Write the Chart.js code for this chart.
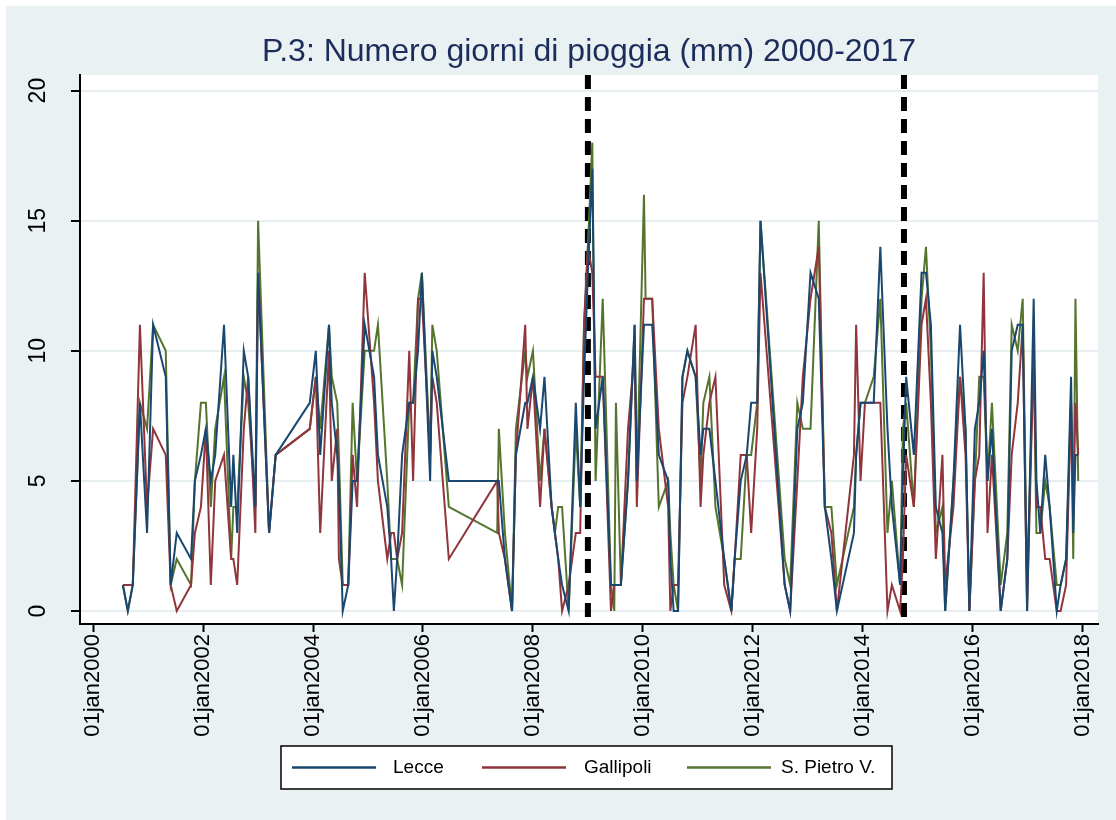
<!DOCTYPE html>
<html>
<head>
<meta charset="utf-8">
<script src="https://cdn.jsdelivr.net/npm/chart.js@4.4.1/dist/chart.umd.min.js"></script>
<style>
  html, body { margin: 0; padding: 0; background: #ffffff; }
  #wrap { width: 1116px; height: 820px; }
</style>
</head>
<body>
<div id="wrap"><canvas id="chart" width="1116" height="820"></canvas></div>
<script>
// dates as decimal years
const dates = [2000.54, 2000.63, 2000.72, 2000.85, 2000.98, 2001.09, 2001.32, 2001.41, 2001.52, 2001.78,
  2001.85, 2001.96, 2002.05, 2002.14, 2002.22, 2002.38, 2002.51, 2002.55, 2002.62, 2002.74,
  2002.82, 2002.95, 2003.00, 2003.20, 2003.32, 2003.94, 2004.05, 2004.13, 2004.29, 2004.34,
  2004.44, 2004.47, 2004.54, 2004.64, 2004.72, 2004.80, 2004.94, 2005.11, 2005.18, 2005.35,
  2005.42, 2005.47, 2005.53, 2005.62, 2005.75, 2005.82, 2005.91, 2005.98, 2006.13, 2006.17,
  2006.25, 2006.47, 2007.35, 2007.38, 2007.49, 2007.62, 2007.69, 2007.86, 2007.90, 2008.00,
  2008.13, 2008.21, 2008.34, 2008.40, 2008.46, 2008.53, 2008.65, 2008.78, 2008.86, 2008.93,
  2009.00, 2009.08, 2009.14, 2009.27, 2009.42, 2009.48, 2009.51, 2009.60, 2009.73, 2009.85,
  2009.89, 2010.02, 2010.05, 2010.17, 2010.29, 2010.46, 2010.50, 2010.56, 2010.64, 2010.72,
  2010.81, 2010.96, 2011.05, 2011.10, 2011.21, 2011.32, 2011.48, 2011.61, 2011.67, 2011.78,
  2011.89, 2011.97, 2012.08, 2012.14, 2012.58, 2012.68, 2012.81, 2012.91, 2013.05, 2013.20,
  2013.31, 2013.43, 2013.53, 2013.84, 2013.88, 2013.96, 2014.04, 2014.20, 2014.32, 2014.45,
  2014.53, 2014.68, 2014.73, 2014.79, 2014.93, 2015.07, 2015.15, 2015.24, 2015.33, 2015.45,
  2015.50, 2015.65, 2015.77, 2015.87, 2015.94, 2016.04, 2016.12, 2016.20, 2016.27, 2016.35,
  2016.51, 2016.63, 2016.71, 2016.82, 2016.91, 2016.99, 2017.11, 2017.16, 2017.23, 2017.32,
  2017.40, 2017.53, 2017.60, 2017.70, 2017.79, 2017.83, 2017.87, 2017.92]

const lecce = [1, 0, 1, 8, 3, 11, 9, 1, 3, 2,
  5, 6, 7, 5, 6, 11, 4, 6, 3, 10,
  9, 4, 13, 3, 6, 8, 10, 6, 11, 8,
  6, 5, 0, 1, 5, 5, 11, 9, 6, 4,
  2, 0, 2, 6, 8, 8, 10, 13, 5, 10,
  9, 5, 5, 5, 2, 0, 6, 8, 8, 9,
  7, 9, 4, 3, 2, 1, 0, 8, 4, 9,
  13, 17, 7, 9, 1, 1, 1, 1, 5, 11,
  5, 11, 11, 11, 6, 5, 2, 0, 0, 9,
  10, 9, 6, 7, 7, 5, 2, 0, 2, 5,
  6, 8, 8, 15, 1, 0, 7, 8, 13, 12,
  4, 2, 0, 3, 6, 8, 8, 8, 14, 7,
  4, 1, 5, 9, 6, 13, 13, 11, 4, 3,
  0, 5, 11, 7, 0, 7, 8, 10, 5, 7,
  0, 2, 10, 11, 11, 0, 12, 5, 3, 6,
  4, 0, 1, 2, 9, 3, 6, 6]

const gallipoli = [1, 1, 1, 11, 4, 7, 6, 1, 0, 1,
  3, 4, 7, 1, 5, 6, 2, 2, 1, 7,
  9, 3, 13, 3, 6, 7, 9, 3, 10, 5,
  7, 2, 1, 1, 6, 4, 13, 8, 5, 2,
  3, 3, 2, 3, 10, 5, 12, 12, 6, 9,
  8, 2, 5, 3, 2, 0, 6, 11, 7, 9,
  4, 7, 4, 3, 2, 0, 1, 3, 3, 11,
  14, 13, 9, 9, 0, 1, 1, 1, 7, 10,
  4, 12, 12, 12, 7, 4, 0, 1, 1, 8,
  9, 11, 4, 6, 8, 9, 1, 0, 2, 6,
  6, 3, 7, 13, 1, 0, 5, 9, 12, 14,
  4, 3, 0, 6, 11, 5, 8, 8, 8, 0,
  1, 0, 2, 6, 4, 11, 12, 8, 2, 6,
  1, 4, 9, 6, 0, 5, 6, 13, 3, 6,
  0, 2, 6, 8, 11, 0, 10, 4, 4, 2,
  2, 0, 0, 1, 8, 4, 8, 6]

const sPietro = [1, 0, 1, 8, 7, 11, 10, 1, 2, 1,
  5, 8, 8, 4, 7, 9, 2, 4, 4, 9,
  8, 4, 15, 3, 6, 7, 9, 7, 11, 9,
  8, 6, 1, 1, 8, 5, 10, 10, 11, 5,
  2, 2, 2, 1, 8, 8, 12, 13, 6, 11,
  10, 4, 3, 7, 3, 0, 7, 10, 9, 10,
  5, 7, 4, 3, 4, 4, 0, 7, 4, 11,
  14, 18, 5, 12, 1, 0, 8, 1, 5, 11,
  5, 16, 12, 12, 4, 5, 3, 1, 0, 9,
  10, 9, 5, 8, 9, 4, 2, 0, 2, 2,
  6, 6, 8, 15, 2, 1, 8, 7, 7, 15,
  4, 4, 1, 4, 6, 8, 8, 9, 12, 3,
  5, 1, 7, 8, 4, 12, 14, 10, 3, 4,
  0, 5, 9, 7, 0, 5, 9, 9, 5, 8,
  1, 3, 11, 10, 12, 1, 10, 3, 3, 5,
  4, 1, 1, 2, 8, 2, 12, 5]

const seriesNames = ["Lecce", "Gallipoli", "S. Pietro V."]
const seriesColors = ["#1a476f", "#90353b", "#55752f"]
const xTicks = [2000, 2002, 2004, 2006, 2008, 2010, 2012, 2014, 2016, 2018]
const yTicks = [0, 5, 10, 15, 20]
const breaks = [2009.0, 2014.75]
const titleText = "P.3: Numero giorni di pioggia (mm) 2000-2017"

const FONT = "'Liberation Sans', Arial, sans-serif"

const toPoints = (vals) => vals.map((v, i) => ({ x: dates[i], y: v }))

// outer light panel + white plot region + title
const backdrop = {
  id: "backdrop",
  beforeDraw(chart) {
    const { ctx, chartArea: a } = chart
    ctx.save()
    ctx.fillStyle = "#ffffff"
    ctx.fillRect(0, 0, chart.width, chart.height)
    ctx.fillStyle = "#eaf1f3"
    ctx.fillRect(6, 6, chart.width - 6, chart.height - 6)
    ctx.fillStyle = "#ffffff"
    ctx.fillRect(a.left, a.top, a.right - a.left, a.bottom - a.top)
    ctx.fillStyle = "#1c2d5c"
    ctx.font = "32px " + FONT
    ctx.textAlign = "center"
    ctx.textBaseline = "middle"
    ctx.fillText(titleText, (a.left + a.right) / 2, 52)
    ctx.restore()
  }
}

// thick dashed reference lines
const breakLines = {
  id: "breakLines",
  beforeDatasetsDraw(chart) {
    const { ctx, chartArea: a, scales } = chart
    ctx.save()
    ctx.strokeStyle = "#000000"
    ctx.lineWidth = 6
    ctx.setLineDash([14, 8])
    breaks.forEach((b) => {
      const x = scales.x.getPixelForValue(b)
      ctx.beginPath()
      ctx.moveTo(x, a.top)
      ctx.lineTo(x, a.bottom)
      ctx.stroke()
    })
    ctx.restore()
  }
}

// boxed legend under the axis
const boxLegend = {
  id: "boxLegend",
  afterDraw(chart) {
    const { ctx } = chart
    const box = { x: 281, y: 746, w: 611, h: 43 }
    const items = [
      { line: 292, text: 393 },
      { line: 482, text: 584 },
      { line: 687, text: 781 }
    ]
    const cy = box.y + box.h / 2
    ctx.save()
    ctx.fillStyle = "#ffffff"
    ctx.fillRect(box.x, box.y, box.w, box.h)
    ctx.strokeStyle = "#000000"
    ctx.lineWidth = 1.5
    ctx.strokeRect(box.x, box.y, box.w, box.h)
    ctx.font = "19px " + FONT
    ctx.textBaseline = "middle"
    ctx.textAlign = "left"
    items.forEach((it, i) => {
      ctx.strokeStyle = seriesColors[i]
      ctx.lineWidth = 2.5
      ctx.beginPath()
      ctx.moveTo(it.line, cy)
      ctx.lineTo(it.line + 84, cy)
      ctx.stroke()
      ctx.fillStyle = "#000000"
      ctx.fillText(seriesNames[i], it.text, cy)
    })
    ctx.restore()
  }
}

new Chart(document.getElementById("chart").getContext("2d"), {
  type: "line",
  data: {
    datasets: [lecce, gallipoli, sPietro].map((vals, i) => ({
      label: seriesNames[i],
      data: toPoints(vals),
      borderColor: seriesColors[i],
      borderWidth: 2,
      pointRadius: 0,
      tension: 0,
      fill: false
    }))
  },
  options: {
    responsive: false,
    devicePixelRatio: 1,
    animation: false,
    layout: { padding: { top: 75, left: 6, right: 18, bottom: 76 } },
    plugins: {
      legend: { display: false },
      title: { display: false },
      tooltip: { enabled: false }
    },
    scales: {
      x: {
        type: "linear",
        min: 1999.76,
        max: 2018.28,
        afterBuildTicks: (s) => { s.ticks = xTicks.map((v) => ({ value: v })) },
        afterFit: (s) => { s.height = 120 },
        grid: { drawOnChartArea: false, tickLength: 8, tickColor: "#000000", tickWidth: 2 },
        border: { color: "#000000", width: 2 },
        ticks: {
          minRotation: 90,
          maxRotation: 90,
          padding: 2,
          color: "#000000",
          font: { family: FONT, size: 22 },
          callback: (v) => "01jan" + v
        }
      },
      y: {
        min: -0.5,
        max: 20.6,
        afterBuildTicks: (s) => { s.ticks = yTicks.map((v) => ({ value: v })) },
        afterFit: (s) => { s.width = 74 },
        grid: { color: "#e6eef1", lineWidth: 2, tickLength: 9, tickColor: "#000000", tickWidth: 2 },
        border: { color: "#000000", width: 2 },
        ticks: {
          minRotation: 90,
          maxRotation: 90,
          crossAlign: "center",
          padding: 20,
          color: "#000000",
          font: { family: FONT, size: 23 }
        }
      }
    }
  },
  plugins: [backdrop, breakLines, boxLegend]
})
</script>
</body>
</html>
